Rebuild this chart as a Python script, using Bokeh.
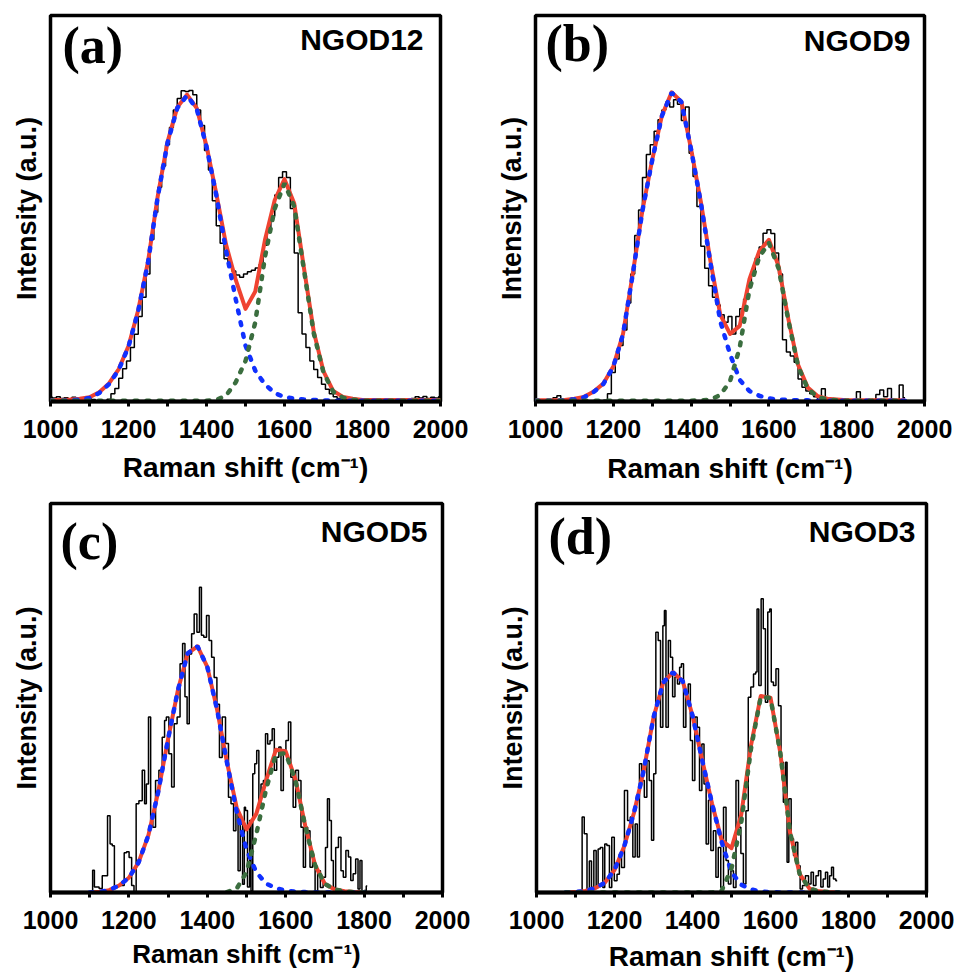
import math
from bokeh.plotting import figure
from bokeh.models import Range1d, FixedTicker, Label
from bokeh.layouts import column, row
from bokeh.embed import file_html
from bokeh.resources import INLINE

# ---------------- text ----------------
TAGS = ["(a)", "(b)", "(c)", "(d)"]
SAMPLES = ["NGOD12", "NGOD9", "NGOD5", "NGOD3"]
Y_TITLE = "Intensity (a.u.)"
X_TITLE = "Raman shift (cm\u207b\u00b9)"
MAJOR_TICKS = [1000, 1200, 1400, 1600, 1800, 2000]
MINOR_TICKS = [1100, 1300, 1500, 1700, 1900]

# ---------------- panel (a) NGOD12 ----------------
fit_x_a = list(range(1000, 2001, 25))
d_band_a = [0.2, 0.2, 0.3, 0.5, 0.9, 2.2, 4.5, 8.2, 14.2, 23.5,
            36.0, 53.0, 67.0, 76.0, 79.3, 75.8, 66.0, 53.5, 39.2, 26.5,
            14.5, 8.0, 4.4, 2.2, 1.1, 0.8, 0.5, 0.4, 0.3, 0.2,
            0.2, 0.2, 0.2, 0.2, 0.2, 0.2, 0.2, 0.2, 0.2, 0.2, 0.2]
g_band_a = [0.2, 0.2, 0.2, 0.2, 0.2, 0.2, 0.2, 0.2, 0.2, 0.2,
            0.2, 0.2, 0.2, 0.2, 0.2, 0.2, 0.2, 0.4, 1.5, 5.0,
            10.5, 20.5, 37.5, 50.0, 56.5, 50.5, 34.0, 17.7, 7.5, 2.5,
            1.0, 0.5, 0.2, 0.2, 0.2, 0.2, 0.2, 0.2, 0.2, 0.2, 0.2]
fit_a = [0.4, 0.4, 0.5, 0.7, 1.1, 2.4, 4.7, 8.4, 14.4, 23.7,
         36.2, 53.2, 67.2, 76.2, 79.5, 76.0, 66.2, 53.9, 40.7, 31.5,
         24.0, 28.5, 41.9, 52.2, 57.6, 51.3, 34.5, 18.1, 7.8, 2.7,
         1.2, 0.7, 0.4, 0.4, 0.4, 0.4, 0.4, 0.4, 0.4, 0.4, 0.4]
raw_x_a = list(range(1000, 2001, 10))
raw_y_a = [1.1, 0.9, 1.2, 0.8, 1.0, 0.7, 1.1, 0.9, 0.8, 1.0,
           0.7, 0.5, 0.2, 0.0, 0.1, 0.6, 2.0, 3.4, 6.0, 8.5,
           10.5, 14.0, 17.4, 22.0, 27.0, 33.0, 42.0, 49.0, 55.5, 61.0,
           66.5, 71.0, 75.5, 78.5, 80.5, 80.3, 80.6, 79.5, 75.5, 71.5,
           65.0, 60.0, 52.0, 45.5, 41.0, 37.0, 35.0, 33.8, 32.8, 32.2,
           33.0, 33.6, 34.0, 34.6, 35.5, 40.5, 44.5, 48.0, 53.5, 58.0,
           59.5, 58.0, 50.0, 38.5, 23.0, 17.5, 14.0, 10.5, 8.3, 6.2,
           4.5, 3.2, 2.0, 1.2, 0.8, 0.6, 0.5, 0.4, 0.3, -0.8,
           0.2, -0.5, 0.4, 0.3, 0.5, 0.4, 0.3, 0.5, 0.4, 0.5,
           0.4, 0.6, 0.5, 0.8, 1.2, 0.9, 1.3, 0.8, 1.1, 0.9,
           1.2]

# ---------------- panel (b) NGOD9 ----------------
fit_x_b = list(range(1000, 1951, 25))
d_band_b = [0.2, 0.2, 0.2, 0.3, 0.6, 1.1, 2.5, 4.6, 9.0, 17.4,
            33.0, 49.5, 62.5, 74.0, 80.0, 77.6, 65.3, 51.5, 35.7, 20.8,
            12.3, 5.6, 2.7, 1.5, 0.8, 0.5, 0.4, 0.3, 0.3,
            0.2, 0.2, 0.2, 0.2, 0.2, 0.2, 0.2, 0.2, 0.2, 0.2]
g_band_b = [0.2, 0.2, 0.2, 0.2, 0.2, 0.2, 0.2, 0.2, 0.2, 0.2,
            0.2, 0.2, 0.2, 0.2, 0.2, 0.2, 0.2, 0.3, 0.5, 1.7,
            5.2, 14.0, 29.0, 37.4, 41.1, 34.5, 21.0, 9.2, 3.3,
            1.2, 0.5, 0.3, 0.2, 0.2, 0.2, 0.2, 0.2, 0.2, 0.2]
fit_b = [0.3, 0.3, 0.3, 0.4, 0.7, 1.2, 2.6, 4.7, 9.1, 17.5,
         33.1, 49.6, 62.6, 74.1, 80.1, 77.7, 65.4, 51.8, 36.2, 22.5,
         17.5, 19.6, 31.7, 38.9, 41.9, 35.0, 21.4, 9.5, 3.6,
         1.4, 0.7, 0.5, 0.3, 0.3, 0.3, 0.3, 0.3, 0.3, 0.3]
raw_x_b = list(range(1040, 1951, 10))
raw_y_b = [0.3, 1.0, 1.5, 0.6, 0.3, 0.2,
           0.1, 0.2, 0.1, 0.2, 0.1, 0.2, 0.1, 0.2, 0.3, 2.0,
           7.5, 11.0, 14.5, 18.5, 25.5, 33.0, 43.0, 49.6, 58.0, 64.0,
           66.5, 70.0, 73.0, 75.5, 77.6, 76.3, 78.2, 77.0, 72.8, 76.3,
           64.3, 58.3, 50.5, 40.2, 34.5, 30.0, 27.0, 25.0, 22.5, 20.5,
           22.0, 17.5, 22.0, 24.0, 26.5, 29.5, 33.5, 37.2, 40.0, 43.6,
           44.5, 43.5, 38.5, 33.0, 16.0, 12.8, 11.8, 10.2, 5.8, 3.7,
           2.7, 2.0, 1.2, 0.5, 3.3, 0.2, 0.3, 0.2, 0.3, 0.2,
           0.6, 0.3, 0.2, 2.5, 0.3, 0.4, 0.2, 0.5, 1.8, 3.0,
           1.2, 3.4, 0.5, 0.4, 4.3, 1.0]

# ---------------- panel (c) NGOD5 ----------------
fit_x_c = list(range(1100, 1801, 25))
d_band_c = [0.0, 0.2, 0.6, 1.8, 3.8, 7.8, 14.8, 26.0, 39.5, 52.0,
            61.5, 63.3, 58.0, 47.0, 33.5, 20.8, 11.0, 5.2, 2.3, 1.1,
            0.5, 0.2, 0.1, 0.0, 0.0, 0.0, 0.0, 0.0, 0.0]
g_x_c = list(range(1450, 1801, 25))
g_band_c = [0.1, 1.0, 5.2, 15.0, 26.5, 35.6, 35.8, 28.8, 17.0, 7.0,
            2.2, 0.8, 0.3, 0.1, 0.0]
fit_c = [0.0, 0.2, 0.6, 1.8, 3.8, 7.8, 14.8, 26.0, 39.5, 52.0,
         61.5, 63.3, 58.0, 47.0, 33.6, 21.8, 16.2, 20.2, 28.8, 36.7,
         36.3, 29.0, 17.1, 7.0, 2.2, 0.8, 0.3, 0.1, 0.0]
raw_x_c = [1105, 1110, 1114, 1120, 1128, 1136, 1142, 1149, 1155, 1160,
           1166, 1175, 1185, 1191, 1197, 1204, 1210, 1216, 1221, 1230,
           1238, 1242, 1247, 1253, 1258, 1264, 1272, 1281, 1289, 1293,
           1298, 1306, 1312, 1319, 1327, 1334, 1340, 1346, 1351, 1357,
           1363, 1370, 1377, 1383, 1387, 1395, 1401, 1408, 1414, 1421,
           1428, 1434, 1442, 1451, 1457, 1464, 1470, 1476, 1481, 1487,
           1493, 1496, 1499, 1506, 1510, 1513, 1519, 1523, 1529, 1534,
           1540, 1546, 1551, 1557, 1563, 1568, 1574, 1580, 1585, 1591,
           1597, 1604, 1610, 1616, 1622, 1629, 1636, 1642, 1648, 1653,
           1659, 1665, 1672, 1678, 1685, 1692, 1699, 1704, 1709, 1714,
           1719, 1724, 1731, 1738, 1744, 1750, 1757, 1763, 1769, 1775,
           1782, 1787, 1792, 1797, 1803, 1808]
raw_y_c = [0.0, 5.7, 1.4, 1.4, 1.0, 4.3, 4.3, 19.7, 12.5, 12.0,
           1.4, 1.8, 1.8, 10.2, 10.5, 9.0, 1.8, 0.2, 22.8, 23.6,
           31.4, 22.8, 27.9, 45.1, 18.5, 16.8, 28.8, 31.4, 39.9, 44.2,
           45.1, 35.7, 27.1, 43.4, 45.1, 58.8, 64.0, 50.3, 43.4, 61.3,
           66.5, 71.6, 66.9, 78.5, 66.1, 65.6, 71.2, 64.8, 60.5, 55.3,
           48.4, 34.7, 45.1, 38.3, 24.5, 22.8, 15.9, 21.1, 5.6, 17.6,
           2.1, 21.9, 21.1, 1.4, 18.5, 0.4, 30.5, 33.1, 36.5, 22.8,
           27.9, 28.8, 40.8, 38.2, 39.1, 42.1, 31.4, 34.8, 37.4, 26.2,
           35.6, 39.1, 43.8, 29.6, 21.9, 31.4, 28.8, 16.8, 6.5, 16.8,
           15.9, 6.5, 8.2, 0.4, 5.6, 1.3, 3.9, 11.6, 24.1, 18.5,
           8.2, 1.3, 11.6, 14.2, 5.6, 3.9, 10.8, 9.1, 3.1, 4.8,
           8.6, 0.9, 8.2, 0.0, 0.5, 1.7]

# ---------------- panel (d) NGOD3 ----------------
fit_x_d = list(range(1075, 1776, 25))
d_band_d = [0.0, 0.1, 0.4, 1.1, 2.5, 5.8, 11.9, 20.5, 31.4, 45.0,
            54.0, 56.6, 54.3, 45.5, 34.0, 22.9, 12.9, 5.2, 2.0, 0.8,
            0.2, 0.1, 0.0, 0.0, 0.0, 0.0, 0.0, 0.0, 0.0]
g_band_d = [0.0, 0.0, 0.0, 0.0, 0.0, 0.0, 0.0, 0.0, 0.0, 0.0,
            0.0, 0.0, 0.0, 0.0, 0.0, 0.0, 0.5, 6.2, 18.0, 37.0,
            50.3, 50.0, 36.0, 15.5, 4.7, 1.0, 0.3, 0.1, 0.0]
fit_d = [0.0, 0.1, 0.4, 1.1, 2.5, 5.8, 11.9, 20.5, 31.4, 45.0,
         54.0, 56.6, 54.3, 45.5, 34.0, 22.9, 13.4, 11.4, 20.0, 37.8,
         50.5, 50.1, 36.0, 15.5, 4.7, 1.0, 0.3, 0.1, 0.0]
raw_x_d = [1115, 1119, 1126, 1133, 1138, 1144, 1150, 1156, 1160, 1167,
           1173, 1177, 1184, 1190, 1196, 1203, 1210, 1215, 1221, 1230,
           1237, 1244, 1250, 1256, 1261, 1267, 1273, 1280, 1286, 1292,
           1298, 1303, 1309, 1315, 1321, 1327, 1329, 1335, 1341, 1346,
           1352, 1358, 1365, 1369, 1374, 1380, 1386, 1392, 1397, 1403,
           1409, 1415, 1421, 1427, 1432, 1438, 1444, 1450, 1457, 1463,
           1469, 1476, 1483, 1489, 1495, 1502, 1508, 1515, 1521, 1527,
           1534, 1540, 1546, 1553, 1560, 1564, 1567, 1573, 1579, 1584,
           1590, 1596, 1600, 1604, 1611, 1617, 1624, 1630, 1636, 1641,
           1644, 1650, 1656, 1662, 1667, 1673, 1679, 1685, 1694, 1701,
           1707, 1713, 1720, 1726, 1732, 1738, 1744, 1749, 1754, 1759,
           1764, 1771]
raw_y_d = [0.0, 19.4, 15.1, 0.4, 8.1, 1.3, 10.8, 1.3, 11.2, 11.6,
           1.3, 12.5, 12.1, 1.3, 14.2, 3.0, 4.7, 9.9, 6.4, 26.2,
           18.5, 19.4, 9.1, 17.6, 9.1, 33.1, 28.8, 24.5, 33.9, 28.8,
           13.4, 30.5, 66.9, 64.8, 42.5, 68.6, 72.5, 42.5, 64.8, 60.5,
           50.3, 55.4, 53.6, 57.9, 58.8, 42.5, 51.1, 53.6, 39.1, 28.8,
           45.1, 42.5, 26.2, 38.2, 27.9, 12.5, 23.7, 10.8, 15.9, 3.9,
           11.6, 1.3, 21.9, 8.2, 2.2, 5.6, 1.3, 28.8, 16.8, 10.0,
           2.2, 21.0, 50.2, 52.8, 56.2, 56.7, 72.9, 53.2, 75.5, 67.8,
           48.9, 72.1, 72.9, 54.1, 53.2, 57.5, 48.0, 33.5, 23.2, 33.5,
           7.8, 24.1, 13.8, 9.5, 12.9, 6.9, 0.9, 1.8, 4.3, 2.2,
           5.2, 1.8, 4.3, 5.6, 1.4, 3.5, 5.2, 1.4, 4.3, 6.5,
           3.5, 3.0]

RED = "#ef4331"
BLUE = "#1030ff"
GREEN = "#3b6e3f"
SANS = "Liberation Sans"
SERIF = "Liberation Serif"


def make_panel(fx, d, gx, g, s, rx, ry, tag, name, geo):
    W, H, bl, bt, fw, fh = geo["W"], geo["H"], geo["bl"], geo["bt"], geo["fw"], geo["fh"]
    p = figure(width=W, height=H, x_range=Range1d(1000, 2000), y_range=Range1d(0, 100),
               output_backend="svg", toolbar_location=None,
               min_border_left=bl, min_border_right=W - bl - fw,
               min_border_top=bt, min_border_bottom=H - bt - fh)
    p.background_fill_color = "white"
    p.border_fill_color = "white"
    p.outline_line_color = "black"
    p.outline_line_width = 3.5
    p.xgrid.visible = False
    p.ygrid.visible = False

    ax = p.xaxis[0]
    ax.ticker = FixedTicker(ticks=MAJOR_TICKS, minor_ticks=MINOR_TICKS)
    ax.axis_line_width = 4
    ax.axis_line_color = "black"
    ax.major_tick_line_width = 3
    ax.minor_tick_line_width = 3
    ax.major_tick_out = 5
    ax.major_tick_in = 0
    ax.minor_tick_out = 5
    ax.minor_tick_in = 0
    ax.major_label_text_font = SANS
    ax.major_label_text_font_style = "bold"
    ax.major_label_text_font_size = "25px"
    ax.major_label_text_color = "black"
    ax.major_label_standoff = 13
    ax.axis_label = X_TITLE
    ax.axis_label_text_font = SANS
    ax.axis_label_text_font_style = "bold"
    ax.axis_label_text_font_size = f"{geo['F']}px"
    ax.axis_label_text_color = "black"
    ax.axis_label_standoff = geo["xs"]

    ay = p.yaxis[0]
    ay.ticker = FixedTicker(ticks=[])
    ay.axis_line_color = None
    ay.major_tick_line_color = None
    ay.minor_tick_line_color = None
    ay.major_tick_out = 0
    ay.minor_tick_out = 0
    ay.major_label_text_font_size = "0px"
    ay.axis_label = Y_TITLE
    ay.axis_label_text_font = SANS
    ay.axis_label_text_font_style = "bold"
    ay.axis_label_text_font_size = "27px"
    ay.axis_label_text_color = "black"
    ay.axis_label_standoff = geo["ys"]

    p.step(rx, ry, mode="center", line_color="black", line_width=1.5)
    p.line(fx, s, line_color=RED, line_width=4, line_join="round")
    p.line(fx, d, line_color=BLUE, line_width=4.5, line_dash="3 9", line_cap="round")
    p.line(gx, g, line_color=GREEN, line_width=4.5, line_dash="3 9", line_cap="round")

    p.add_layout(Label(x=geo["tag_dx"], y=fh - geo["tag_dy"], x_units="screen", y_units="screen",
                       text=tag, text_font=SERIF, text_font_style="bold", text_font_size="52px",
                       text_align="left", text_baseline="alphabetic", text_color="black"))
    p.add_layout(Label(x=fw - geo["name_dx"], y=fh - geo["name_dy"], x_units="screen", y_units="screen",
                       text=name, text_font=SANS, text_font_style="bold", text_font_size="30px",
                       text_align="right", text_baseline="alphabetic", text_color="black"))
    return p


GEO_A = dict(W=478, H=489, bl=50, bt=15, fw=390, fh=387, tag_dx=12, tag_dy=31,
             name_dx=17, name_dy=25, F=28, xs=11, ys=9)
GEO_B = dict(W=479, H=489, bl=57, bt=13, fw=389, fh=388, tag_dx=10, tag_dy=30,
             name_dx=14, name_dy=27, F=28, xs=12, ys=9)
GEO_C = dict(W=478, H=489, bl=50, bt=14, fw=392, fh=389, tag_dx=10, tag_dy=38,
             name_dx=15, name_dy=28, F=26, xs=7, ys=9)
GEO_D = dict(W=479, H=489, bl=58, bt=14, fw=390, fh=389, tag_dx=12, tag_dy=33,
             name_dx=11, name_dy=28, F=28, xs=9, ys=9)

pa = make_panel(fit_x_a, d_band_a, fit_x_a, g_band_a, fit_a, raw_x_a, raw_y_a, TAGS[0], SAMPLES[0], GEO_A)
pb = make_panel(fit_x_b, d_band_b, fit_x_b, g_band_b, fit_b, raw_x_b, raw_y_b, TAGS[1], SAMPLES[1], GEO_B)
pc = make_panel(fit_x_c, d_band_c, g_x_c, g_band_c, fit_c, raw_x_c, raw_y_c, TAGS[2], SAMPLES[2], GEO_C)
pd = make_panel(fit_x_d, d_band_d, fit_x_d, g_band_d, fit_d, raw_x_d, raw_y_d, TAGS[3], SAMPLES[3], GEO_D)

layout = column(row(pa, pb), row(pc, pd))
open("out.html", "w").write(file_html(layout, INLINE))
